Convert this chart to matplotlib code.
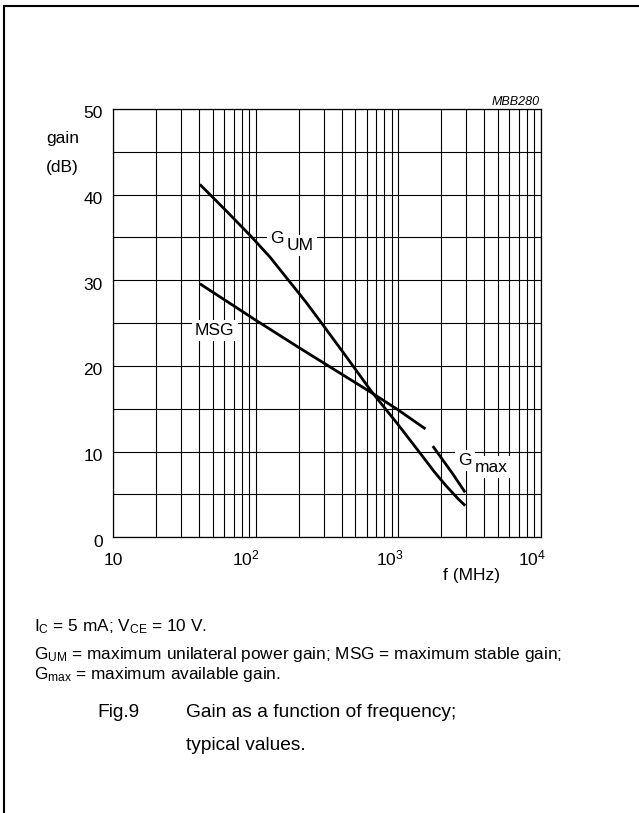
import matplotlib
matplotlib.use('Agg')
import matplotlib.pyplot as plt
from matplotlib.lines import Line2D

plt.rcParams['font.family'] = ['Liberation Sans', 'DejaVu Sans']
plt.rcParams['mathtext.fontset'] = 'custom'
plt.rcParams['mathtext.rm'] = 'Liberation Sans'
plt.rcParams['mathtext.it'] = 'Liberation Sans:italic'
plt.rcParams['mathtext.bf'] = 'Liberation Sans:bold'

# ---- data ----
gum_f = [40.5, 63, 93, 126, 168, 224, 284, 427, 647, 993, 1490, 1780, 2170, 2630, 2950]
gum_db = [41.2, 38.0, 35.1, 32.7, 30.1, 27.5, 25.2, 21.2, 17.05, 13.2, 9.4, 7.7, 6.0, 4.5, 3.7]

msg_f = [40.5, 101, 203, 647, 993, 1553]
msg_db = [29.6, 25.3, 22.1, 16.9, 14.9, 12.65]

gmax_f = [1748, 2415, 2948]
gmax_db = [10.65, 7.4, 5.25]

y_ticks = [0, 10, 20, 30, 40, 50]
y_tick_labels = ['0', '10', '20', '30', '40', '50']
x_ticks = [10, 100, 1000, 10000]
x_tick_labels = ['10', r'$\mathregular{10^2}$', r'$\mathregular{10^3}$', r'$\mathregular{10^4}$']
x_label_dx = [0, -9.5, -8, -8.5]   # px offsets of label centres

W, H = 639, 813
fig = plt.figure(figsize=(W / 100, H / 100), dpi=100)

def fx(px):
    return px / W

def fy(py):
    return 1 - py / H

L, R, T, B = 113.3, 540.7, 109.0, 537.3
ax = fig.add_axes([fx(L), fy(B), (R - L) / W, (B - T) / H])
ax.set_xscale('log')
ax.set_xlim(10, 1e4)
ax.set_ylim(0, 50)
ax.set_xticks(x_ticks)
ax.set_xticks([m * d for d in (10, 100, 1000) for m in range(2, 10)], minor=True)
ax.set_yticks(list(range(0, 51, 5)))
ax.grid(which='both', color='black', lw=0.8)
ax.tick_params(which='both', length=0, labelbottom=False, labelleft=False)
for s in ax.spines.values():
    s.set_linewidth(0.9)

lw = 2.0
for xs, ys in ((gum_f, gum_db), (msg_f, msg_db), (gmax_f, gmax_db)):
    ax.plot(xs, ys, color='black', lw=lw, solid_capstyle='butt', solid_joinstyle='round')

fs = 12.5
px2pt = 0.72
for v, lab in zip(y_ticks, y_tick_labels):
    ax.annotate(lab, xy=(0, v), xycoords=('axes fraction', 'data'),
                xytext=(-10.6 * px2pt, -9.3 * px2pt), textcoords='offset points',
                ha='right', va='baseline', fontsize=fs)
for v, lab, dx in zip(x_ticks, x_tick_labels, x_label_dx):
    ax.annotate(lab, xy=(v, 0), xycoords=('data', 'axes fraction'),
                xytext=(dx * px2pt, -27.7 * px2pt), textcoords='offset points',
                ha='center', va='baseline', fontsize=fs)

fig.text(fx(79), fy(143), 'gain', ha='right', va='baseline', fontsize=fs)
fig.text(fx(79), fy(172), '(dB)', ha='right', va='baseline', fontsize=fs)
fig.text(fx(500), fy(580), 'f (MHz)', ha='right', va='baseline', fontsize=fs)
fig.text(fx(540), fy(105), 'MBB280', ha='right', va='baseline', fontsize=9, style='italic')

box = dict(facecolor='white', edgecolor='none', pad=2.5)
fig.text(fx(270), fy(243.3), 'G', ha='left', va='baseline', fontsize=fs, bbox=box, zorder=5)
fig.text(fx(287), fy(250), 'UM', ha='left', va='baseline', fontsize=fs, bbox=box, zorder=5)
fig.text(fx(195), fy(335), 'MSG', ha='left', va='baseline', fontsize=fs, bbox=box, zorder=5)
fig.text(fx(458), fy(465), 'G', ha='left', va='baseline', fontsize=fs, bbox=box, zorder=5)
fig.text(fx(475), fy(471.7), 'max', ha='left', va='baseline', fontsize=fs, bbox=box, zorder=5)

# footnotes
fn = 12.4
fig.text(fx(34), fy(631), r'$\mathregular{I_C}$ = 5 mA; $\mathregular{V_{CE}}$ = 10 V.',
         ha='left', va='baseline', fontsize=fn)
fig.text(fx(34), fy(659), r'$\mathregular{G_{UM}}$ = maximum unilateral power gain; MSG = maximum stable gain;',
         ha='left', va='baseline', fontsize=fn)
fig.text(fx(34), fy(679), r'$\mathregular{G_{max}}$ = maximum available gain.',
         ha='left', va='baseline', fontsize=fn)

cap = 13.8
fig.text(fx(97), fy(717), 'Fig.9', ha='left', va='baseline', fontsize=cap)
fig.text(fx(186), fy(717), 'Gain as a function of frequency;', ha='left', va='baseline', fontsize=cap)
fig.text(fx(186), fy(750), 'typical values.', ha='left', va='baseline', fontsize=cap)

# page frame (top and left edges)
fig.add_artist(Line2D([fx(4), fx(639)], [fy(6), fy(6)], color='black', lw=1.5))
fig.add_artist(Line2D([fx(4), fx(4)], [fy(6), fy(813)], color='black', lw=1.5))

fig.savefig('out.png', dpi=100)
